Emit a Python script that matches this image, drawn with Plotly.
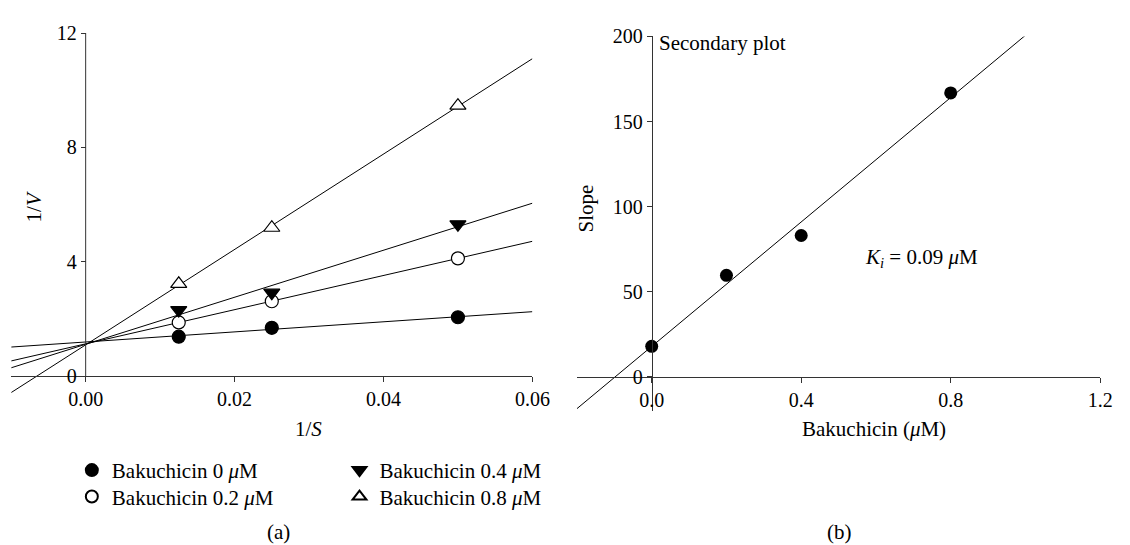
import numpy as np
import plotly.graph_objects as go

# ---------------- data ----------------
inv_S = [0.0125, 0.025, 0.05]                       # 1/S
conc_labels = ["0", "0.2", "0.4", "0.8"]            # Bakuchicin (uM)
invV_0 = [1.38, 1.69, 2.06]
invV_02 = [1.88, 2.62, 4.12]
invV_04 = [2.31, 2.92, 5.31]
invV_08 = [3.23, 5.19, 9.46]

bak_conc = [0.0, 0.2, 0.4, 0.8]                     # secondary plot x
slopes = [17.9, 59.6, 83.0, 166.8]                  # secondary plot y

fit_range_a = [-0.01, 0.06]
fit_range_b = [-0.2, 1.0]

xticks_a = [0.0, 0.02, 0.04, 0.06]
xticktext_a = ["0.00", "0.02", "0.04", "0.06"]
yticks_a = [0, 4, 8, 12]
xticks_b = [0.0, 0.4, 0.8, 1.2]
xticktext_b = ["0.0", "0.4", "0.8", "1.2"]
yticks_b = [0, 50, 100, 150, 200]

# ---------------- layout geometry (pixels) ----------------
W, H = 1130, 545
FONT = "Liberation Serif"
TXT = 21
def fx(p): return p / W
def fy(p): return 1 - p / H

# left panel
A_x0, A_x1 = 11.4, 541.0      # pixel of x=-0.01 and x=0.06
A_yt, A_yb = 22.5, 393.1      # pixel of y=12 and y=-0.7
A_zero_x = 87.2
A_zero_y = 372.7
# right panel
B_x0, B_x1 = 586.3, 1118.0    # pixel of x=-0.2 and x=1.2
B_yt, B_yb = 26.0, 408.0      # pixel of y=200 and y=-20
B_zero_x = 662.3
B_zero_y = 373.3

fig = go.Figure()

# (values, symbol, fill, legend id, legend x px, legend top px)
series = [
    (invV_0, "circle", "black", "legend", 73, 448),
    (invV_02, "circle", "white", "legend2", 73, 475),
    (invV_04, "triangle-down", "black", "legend3", 345, 448),
    (invV_08, "triangle-up", "white", "legend4", 345, 475),
]

# fit lines (primary)
for yv, *_ in series:
    k, b = np.polyfit(inv_S, yv, 1)
    xs = np.array(fit_range_a)
    fig.add_trace(go.Scatter(x=xs, y=k * xs + b, mode="lines",
                             line=dict(color="black", width=1),
                             showlegend=False, hoverinfo="skip",
                             xaxis="x", yaxis="y"))

legends = {}
for (yv, sym, fill, lg, lx, ly), c in zip(series, conc_labels):
    fig.add_trace(go.Scatter(
        x=inv_S, y=yv, mode="markers",
        marker=dict(symbol=sym, size=13 if "circle" in sym else 14,
                    color=fill, line=dict(color="black", width=1.2)),
        name=f"Bakuchicin {c} <i>μ</i>M", legend=lg,
        xaxis="x", yaxis="y"))
    legends[lg] = dict(x=fx(lx), y=fy(ly), xanchor="left", yanchor="top",
                       bgcolor="rgba(0,0,0,0)",
                       font=dict(family=FONT, size=TXT, color="black"),
                       itemsizing="constant", tracegroupgap=0)

# secondary plot
k2, b2 = np.polyfit(bak_conc, slopes, 1)
xs2 = np.array(fit_range_b)
fig.add_trace(go.Scatter(x=xs2, y=k2 * xs2 + b2, mode="lines",
                         line=dict(color="black", width=1),
                         showlegend=False, hoverinfo="skip",
                         xaxis="x2", yaxis="y2"))
fig.add_trace(go.Scatter(x=bak_conc, y=slopes, mode="markers",
                         marker=dict(symbol="circle", size=13, color="black"),
                         showlegend=False, xaxis="x2", yaxis="y2"))

tickfont = dict(family=FONT, size=20, color="black")
axis_common = dict(showgrid=False, zeroline=False, ticks="outside",
                   ticklen=5, tickwidth=1, tickcolor="#333",
                   tickfont=tickfont, fixedrange=True)

fig.update_layout(
    width=W, height=H,
    margin=dict(l=0, r=0, t=0, b=0),
    paper_bgcolor="white", plot_bgcolor="white",
    font=dict(family=FONT, size=TXT, color="black"),
    xaxis=dict(domain=[fx(A_x0), fx(A_x1)], range=[-0.01, 0.06],
               anchor="free", position=fy(A_zero_y),
               showline=True, linecolor="#333", linewidth=1,
               tickvals=xticks_a, ticktext=xticktext_a, **axis_common),
    yaxis=dict(domain=[fy(A_yb), fy(A_yt)], range=[-0.7, 12],
               anchor="free", position=fx(A_zero_x),
               showline=False, tickvals=yticks_a, **axis_common),
    xaxis2=dict(domain=[fx(B_x0), fx(B_x1)], range=[-0.2, 1.2],
                anchor="free", position=fy(B_zero_y),
                showline=True, linecolor="#333", linewidth=1,
                tickvals=xticks_b, ticktext=xticktext_b, **axis_common),
    yaxis2=dict(domain=[fy(B_yb), fy(B_yt)], range=[-20, 200],
                anchor="free", position=fx(B_zero_x),
                showline=True, linecolor="#333", linewidth=1,
                tickvals=yticks_b, **axis_common),
    showlegend=True,
    **legends,
)

# left y-axis line (from 0 to 12 only)
fig.add_shape(type="line", xref="x", yref="y", x0=0, x1=0,
              y0=yticks_a[0], y1=yticks_a[-1],
              line=dict(color="#333", width=1))

ann = [
    dict(text="1/<i>V</i>", x=fx(35), y=fy(200), textangle=-90),
    dict(text="1/<i>S</i>", x=fx(314), y=fy(427)),
    dict(text="(a)", x=fx(283), y=fy(532)),
    dict(text="Slope", x=fx(595), y=fy(202), textangle=-90),
    dict(text="Bakuchicin (<i>μ</i>M)", x=fx(888), y=fy(427)),
    dict(text="(b)", x=fx(853), y=fy(532)),
]
for a in ann:
    fig.add_annotation(xref="paper", yref="paper", showarrow=False,
                       xanchor="center", yanchor="middle",
                       font=dict(family=FONT, size=TXT, color="black"), **a)
fig.add_annotation(xref="paper", yref="paper", showarrow=False,
                   x=fx(668), y=fy(33), xanchor="left", yanchor="middle",
                   text="Secondary plot",
                   font=dict(family=FONT, size=TXT, color="black"))
fig.add_annotation(xref="paper", yref="paper", showarrow=False,
                   x=fx(877), y=fy(252), xanchor="left", yanchor="middle",
                   text="<i>K<sub>i</sub></i>&nbsp;=&nbsp;0.09&nbsp;<i>μ</i>M",
                   font=dict(family=FONT, size=TXT, color="black"))

# remove the default page margin so the 1130x545 figure fills the window
fig.write_html("out.html",
               config={"displayModeBar": False},
               post_script="document.body.style.margin='0px';")
